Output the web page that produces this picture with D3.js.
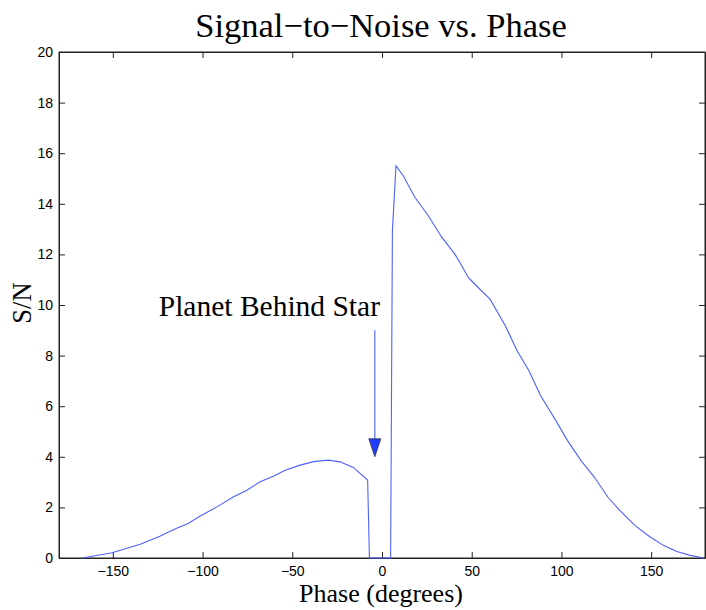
<!DOCTYPE html>
<html><head><meta charset="utf-8">
<script src="https://cdn.jsdelivr.net/npm/d3@7"></script>
<style>body{margin:0;background:#fff}svg{display:block}</style>
</head><body>
<script>
const phase = [-167,-150.4,-134.7,-123.5,-116,-107.8,-101.3,-92,-82.7,-75.3,-67.9,-60.5,-54,-45.6,-38.2,-29.9,-23.4,-16,-8,-7,4.8,5.8,7.8,11.9,18.4,25.8,33.2,40.7,43.5,48.2,51.9,60.3,68.8,75.3,81.9,88.4,96.9,103.4,110.9,118.4,125.9,132.5,140.9,149.4,156.8,164.3,171.8,179.3];
const snr   = [0,0.21,0.54,0.87,1.13,1.37,1.66,2.02,2.42,2.68,3.01,3.23,3.47,3.67,3.81,3.87,3.80,3.58,3.08,0,0,12.94,15.5,15.1,14.25,13.53,12.69,12.0,11.67,11.08,10.81,10.22,9.17,8.19,7.40,6.41,5.43,4.64,3.85,3.19,2.40,1.88,1.29,0.83,0.50,0.26,0.105,0];
const xTicks = [-150,-100,-50,0,50,100,150];
const yTicks = [0,2,4,6,8,10,12,14,16,18,20];
const arrowPhase = -4, arrowFrom = 9, arrowTo = 4;

const W=706,H=610;
const L=59,R=705,T=52,B=558;
const svg=d3.select("body").append("svg").attr("width",W).attr("height",H);
const x=d3.scaleLinear().domain([-180,180]).range([L,R]);
const y=d3.scaleLinear().domain([0,20]).range([B,T]);
const fmt=d=>String(d).replace("-","\u2212");
const tickFont="Liberation Sans, Arial, sans-serif";

svg.append("rect").attr("x",L).attr("y",T).attr("width",R-L).attr("height",B-T)
  .attr("fill","none").attr("stroke","#222").attr("stroke-width",1);

const gx=svg.append("g").attr("transform",`translate(0,${B})`)
  .call(d3.axisBottom(x).tickValues(xTicks).tickFormat(fmt).tickSizeInner(-6).tickSizeOuter(0).tickPadding(8));
const gxt=svg.append("g").attr("transform",`translate(0,${T})`)
  .call(d3.axisTop(x).tickValues(xTicks).tickFormat("").tickSizeInner(-6).tickSizeOuter(0));
const gy=svg.append("g").attr("transform",`translate(${L},0)`)
  .call(d3.axisLeft(y).tickValues(yTicks).tickFormat(fmt).tickSizeInner(-6).tickSizeOuter(0).tickPadding(6));
const gyr=svg.append("g").attr("transform",`translate(${R},0)`)
  .call(d3.axisRight(y).tickValues(yTicks).tickFormat("").tickSizeInner(-6).tickSizeOuter(0));
[gx,gxt,gy,gyr].forEach(g=>{
  g.select(".domain").attr("stroke","#222");
  g.selectAll(".tick line").attr("stroke","#222");
  g.selectAll("text").attr("font-family",tickFont).attr("font-size",14).attr("fill","#000");
});

const data=phase.map((p,i)=>[p,snr[i]]);
svg.append("path").datum(data)
  .attr("d",d3.line().x(d=>x(d[0])).y(d=>y(d[1])))
  .attr("fill","none").attr("stroke","#4d62ff").attr("stroke-width",1.1);

const ax=x(arrowPhase);
svg.append("line").attr("x1",ax).attr("x2",ax).attr("y1",y(arrowFrom)).attr("y2",y(arrowTo)-17)
  .attr("stroke","#4d62ff").attr("stroke-width",1.1);
svg.append("path")
  .attr("d",`M${ax-6},${y(arrowTo)-18} L${ax+6},${y(arrowTo)-18} L${ax},${y(arrowTo)} Z`)
  .attr("fill","#1f3cff").attr("stroke","#333").attr("stroke-width",0.8);

const serif="Liberation Serif, Times New Roman, serif";
svg.append("text").attr("x",380).attr("y",316).attr("text-anchor","end")
  .attr("font-family",serif).attr("font-size",29.5).text("Planet Behind Star");
svg.append("text").attr("x",381).attr("y",37).attr("text-anchor","middle")
  .attr("font-family",serif).attr("font-size",34.5).text("Signal\u2212to\u2212Noise vs. Phase");
svg.append("text").attr("x",381).attr("y",602).attr("text-anchor","middle")
  .attr("font-family",serif).attr("font-size",26).text("Phase (degrees)");
svg.append("text").attr("transform","translate(31,303) rotate(-90)").attr("text-anchor","middle")
  .attr("font-family",serif).attr("font-size",26.5).text("S/N");
</script>
</body></html>
